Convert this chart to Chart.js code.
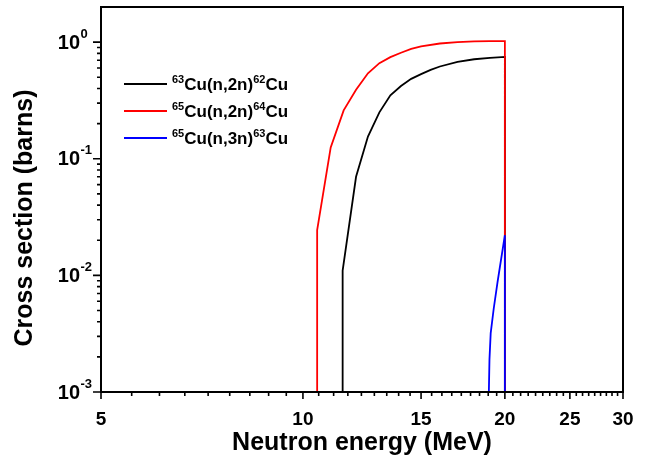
<!DOCTYPE html>
<html>
<head>
<meta charset="utf-8">
<title>Cu cross sections</title>
<script src="https://cdn.jsdelivr.net/npm/chart.js@4/dist/chart.umd.min.js"></script>
<style>
  html, body { margin: 0; padding: 0; background: #fff; }
  canvas { display: block; }
</style>
</head>
<body>
<canvas id="xs-chart" width="646" height="463"></canvas>
<script>
// 63Cu(n,2n)62Cu
const energyCu63 = [11.46, 11.46, 12, 12.5, 13, 13.5, 14, 14.5, 15, 15.5, 16, 17, 18, 19, 20, 20];
const xsCu63 = [0.001, 0.011, 0.070, 0.155, 0.25, 0.35, 0.42, 0.484, 0.531, 0.578, 0.618, 0.677, 0.713, 0.732, 0.747, 0.001];

// 65Cu(n,2n)64Cu
const energyCu65a = [10.5, 10.5, 11, 11.5, 12, 12.5, 13, 13.5, 14, 14.5, 15, 16, 17, 18, 19, 20, 20];
const xsCu65a = [0.001, 0.0244, 0.125, 0.26, 0.39, 0.54, 0.66, 0.743, 0.81, 0.875, 0.92, 0.973, 1.0, 1.013, 1.02, 1.02, 0.001];

// 65Cu(n,3n)63Cu
const energyCu65b = [18.93, 18.97, 19.05, 19.25, 19.5, 20, 20];
const xsCu65b = [0.001, 0.0019, 0.0032, 0.0052, 0.0087, 0.0221, 0.001];

// legend text: [superscript, text, superscript, text]
const legendLabels = [
  ['63', 'Cu(n,2n)', '62', 'Cu'],
  ['65', 'Cu(n,2n)', '64', 'Cu'],
  ['65', 'Cu(n,3n)', '63', 'Cu']
];
const seriesColors = ['#000000', '#ff0000', '#0000ff'];

const xMajorTicks = [5, 10, 15, 20, 25, 30];
const yDecades = [-3, -2, -1, 0];

const FONT = '"Liberation Sans", Arial, sans-serif';

function toPoints(xs, ys) {
  return xs.map((v, i) => ({ x: v, y: ys[i] }));
}

function drawSupText(ctx, parts, x, y, size, supSize) {
  // alternate superscript / normal pieces, starting with superscript
  let cx = x;
  parts.forEach((p, i) => {
    const sup = i % 2 === 0;
    ctx.font = 'bold ' + (sup ? supSize : size) + 'px ' + FONT;
    ctx.fillText(p, cx, sup ? y - size * 0.42 : y);
    cx += ctx.measureText(p).width;
  });
}

const axisFrame = {
  id: 'axisFrame',
  afterDraw(chart) {
    const { ctx, chartArea: a, scales: { x, y } } = chart;
    ctx.save();
    ctx.strokeStyle = '#000';
    ctx.fillStyle = '#000';

    // box
    ctx.lineWidth = 2;
    ctx.strokeRect(a.left, a.top, a.right - a.left, a.bottom - a.top);

    // x ticks, 8 minor ticks between labelled ones
    ctx.lineWidth = 1.6;
    ctx.beginPath();
    xMajorTicks.forEach((v, i) => {
      const px = x.getPixelForValue(v);
      ctx.moveTo(px, a.bottom);
      ctx.lineTo(px, a.bottom + 7);
      if (i < xMajorTicks.length - 1) {
        const step = (xMajorTicks[i + 1] - v) / 9;
        for (let k = 1; k < 9; k++) {
          const mx = x.getPixelForValue(v + k * step);
          ctx.moveTo(mx, a.bottom);
          ctx.lineTo(mx, a.bottom + 4);
        }
      }
    });

    // y ticks
    yDecades.forEach(d => {
      const base = Math.pow(10, d);
      const py = y.getPixelForValue(base);
      ctx.moveTo(a.left, py);
      ctx.lineTo(a.left - 8, py);
      for (let m = 2; m < 10; m++) {
        const v = m * base;
        if (v >= y.max) break;
        const my = y.getPixelForValue(v);
        ctx.moveTo(a.left, my);
        ctx.lineTo(a.left - 4, my);
      }
    });
    ctx.stroke();

    // x labels
    ctx.font = 'bold 19px ' + FONT;
    ctx.textAlign = 'center';
    ctx.textBaseline = 'alphabetic';
    xMajorTicks.forEach(v => {
      ctx.fillText(String(v), x.getPixelForValue(v), a.bottom + 33);
    });

    // y labels 10^n
    yDecades.forEach(d => {
      const py = y.getPixelForValue(Math.pow(10, d));
      ctx.textBaseline = 'middle';
      ctx.textAlign = 'right';
      ctx.font = 'bold 20px ' + FONT;
      ctx.fillText('10', 80, py + 1);
      ctx.textAlign = 'left';
      ctx.font = 'bold 13px ' + FONT;
      ctx.fillText(String(d), 80.5, py - 8);
    });

    // axis titles
    ctx.textAlign = 'center';
    ctx.textBaseline = 'alphabetic';
    ctx.font = 'bold 25px ' + FONT;
    ctx.fillText('Neutron energy (MeV)', (a.left + a.right) / 2, 450);
    ctx.save();
    ctx.translate(32, 218);
    ctx.rotate(-Math.PI / 2);
    ctx.fillText('Cross section (barns)', 0, 0);
    ctx.restore();

    // legend
    ctx.textAlign = 'left';
    ctx.textBaseline = 'alphabetic';
    legendLabels.forEach((parts, i) => {
      const ly = 84 + i * 27;
      ctx.strokeStyle = seriesColors[i];
      ctx.lineWidth = 1.8;
      ctx.beginPath();
      ctx.moveTo(124, ly);
      ctx.lineTo(167, ly);
      ctx.stroke();
      drawSupText(ctx, parts, 172, ly + 6, 17, 11);
    });

    ctx.restore();
  }
};

const lineStyle = { borderWidth: 1.8, pointRadius: 0, tension: 0, fill: false };

new Chart(document.getElementById('xs-chart'), {
  type: 'line',
  data: {
    datasets: [
      Object.assign({ label: '63Cu(n,2n)62Cu', data: toPoints(energyCu63, xsCu63), borderColor: seriesColors[0], order: 3 }, lineStyle),
      Object.assign({ label: '65Cu(n,2n)64Cu', data: toPoints(energyCu65a, xsCu65a), borderColor: seriesColors[1], order: 2 }, lineStyle),
      Object.assign({ label: '65Cu(n,3n)63Cu', data: toPoints(energyCu65b, xsCu65b), borderColor: seriesColors[2], order: 1 }, lineStyle)
    ]
  },
  options: {
    responsive: false,
    animation: false,
    devicePixelRatio: 1,
    layout: { padding: { top: 7, right: 23, left: 0, bottom: 0 } },
    plugins: { legend: { display: false }, tooltip: { enabled: false } },
    scales: {
      x: {
        type: 'logarithmic',
        min: 5,
        max: 30,
        ticks: { display: false },
        grid: { display: false },
        border: { display: false },
        afterFit(scale) { scale.height = 71; }
      },
      y: {
        type: 'logarithmic',
        min: 0.001,
        max: 2,
        ticks: { display: false },
        grid: { display: false },
        border: { display: false },
        afterFit(scale) { scale.width = 101; }
      }
    }
  },
  plugins: [axisFrame]
});
</script>
</body>
</html>
